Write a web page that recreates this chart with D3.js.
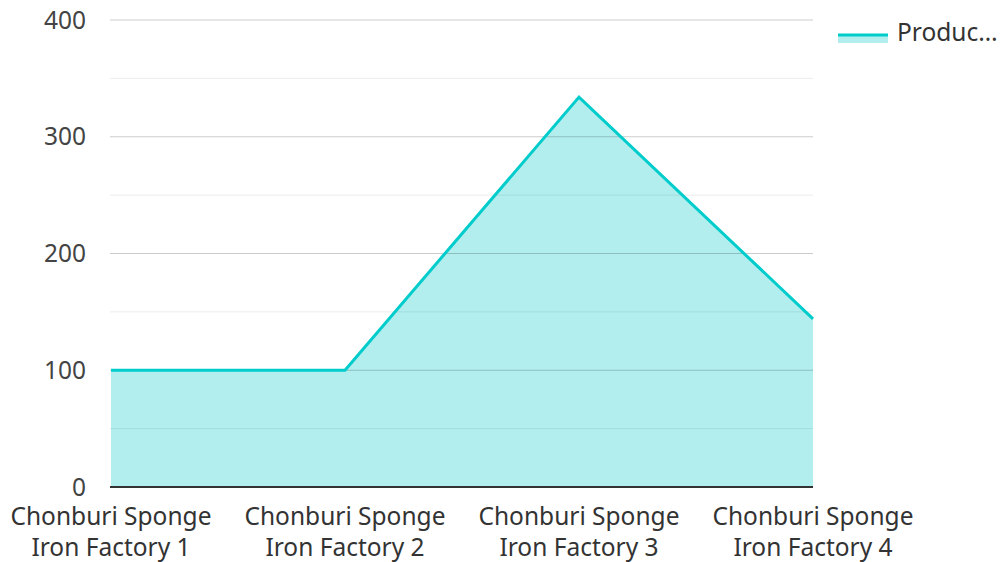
<!DOCTYPE html>
<html>
<head>
<meta charset="utf-8">
<script src="https://cdn.jsdelivr.net/npm/d3@7"></script>
<style>
body{margin:0;background:#fff;}
svg{font-family:"Noto Sans",sans-serif;}
</style>
</head>
<body>
<div id="chart"></div>
<script>
// chart data
var categories=["Chonburi Sponge Iron Factory 1","Chonburi Sponge Iron Factory 2","Chonburi Sponge Iron Factory 3","Chonburi Sponge Iron Factory 4"];
var production=[100,100,334,144];
var yTicks=[0,100,200,300,400];
var yMinor=[50,150,250,350];
var seriesName="Produc…";

var width=1000,height=562;
var mLeft=111,mRight=813,mTop=20,mBottom=487;

var svg=d3.select("#chart").append("svg")
  .attr("width",width)
  .attr("height",height);

var x=d3.scalePoint().domain(categories).range([mLeft,mRight]).padding(0);
var y=d3.scaleLinear().domain([0,400]).range([mBottom,mTop]);

// area + line
var area=d3.area()
  .x(function(d,i){return x(categories[i]);})
  .y0(y(0))
  .y1(function(d){return y(d);});
var line=d3.line()
  .x(function(d,i){return x(categories[i]);})
  .y(function(d){return y(d);});

svg.append("path")
  .datum(production)
  .attr("d",area)
  .attr("fill","#b2eeee");

// grid drawn over area
svg.selectAll(".minor").data(yMinor).enter().append("line")
  .attr("x1",mLeft-1).attr("x2",mRight)
  .attr("y1",function(d){return y(d);}).attr("y2",function(d){return y(d);})
  .attr("stroke","#000").attr("stroke-opacity",0.08).attr("stroke-width",1);
svg.selectAll(".major").data(yTicks.slice(1)).enter().append("line")
  .attr("x1",mLeft-1).attr("x2",mRight)
  .attr("y1",function(d){return y(d);}).attr("y2",function(d){return y(d);})
  .attr("stroke","#000").attr("stroke-opacity",0.2).attr("stroke-width",1);

svg.append("path")
  .datum(production)
  .attr("d",line)
  .attr("fill","none")
  .attr("stroke","#00cccc")
  .attr("stroke-width",3)
  .attr("stroke-linejoin","miter");

// x axis line
svg.append("line")
  .attr("x1",mLeft-1).attr("x2",mRight)
  .attr("y1",y(0)).attr("y2",y(0))
  .attr("stroke","#333").attr("stroke-width",2);

// y labels
svg.selectAll(".ylab").data(yTicks).enter().append("text")
  .attr("x",86)
  .attr("y",function(d){return y(d);})
  .attr("dy","0.35em")
  .attr("text-anchor","end")
  .attr("font-size",24.5)
  .attr("fill","#444")
  .text(function(d){return d;});

// x labels, two lines
var xl=svg.selectAll(".xlab").data(categories).enter().append("text")
  .attr("text-anchor","middle")
  .attr("font-size",24.5)
  .attr("fill","#333");
xl.append("tspan")
  .attr("x",function(d){return x(d);})
  .attr("y",525)
  .text(function(d){return d.split(" ").slice(0,2).join(" ");});
xl.append("tspan")
  .attr("x",function(d){return x(d);})
  .attr("y",556)
  .text(function(d){return d.split(" ").slice(2).join(" ");});

// legend
svg.append("rect").attr("x",838).attr("y",34).attr("width",50).attr("height",9).attr("fill","#b2eeee");
svg.append("line").attr("x1",838).attr("x2",888).attr("y1",35).attr("y2",35)
  .attr("stroke","#00cccc").attr("stroke-width",3);
svg.append("text").attr("x",897).attr("y",32).attr("dy","0.35em")
  .attr("font-size",24.5).attr("fill","#333").text(seriesName);
</script>
</body>
</html>
